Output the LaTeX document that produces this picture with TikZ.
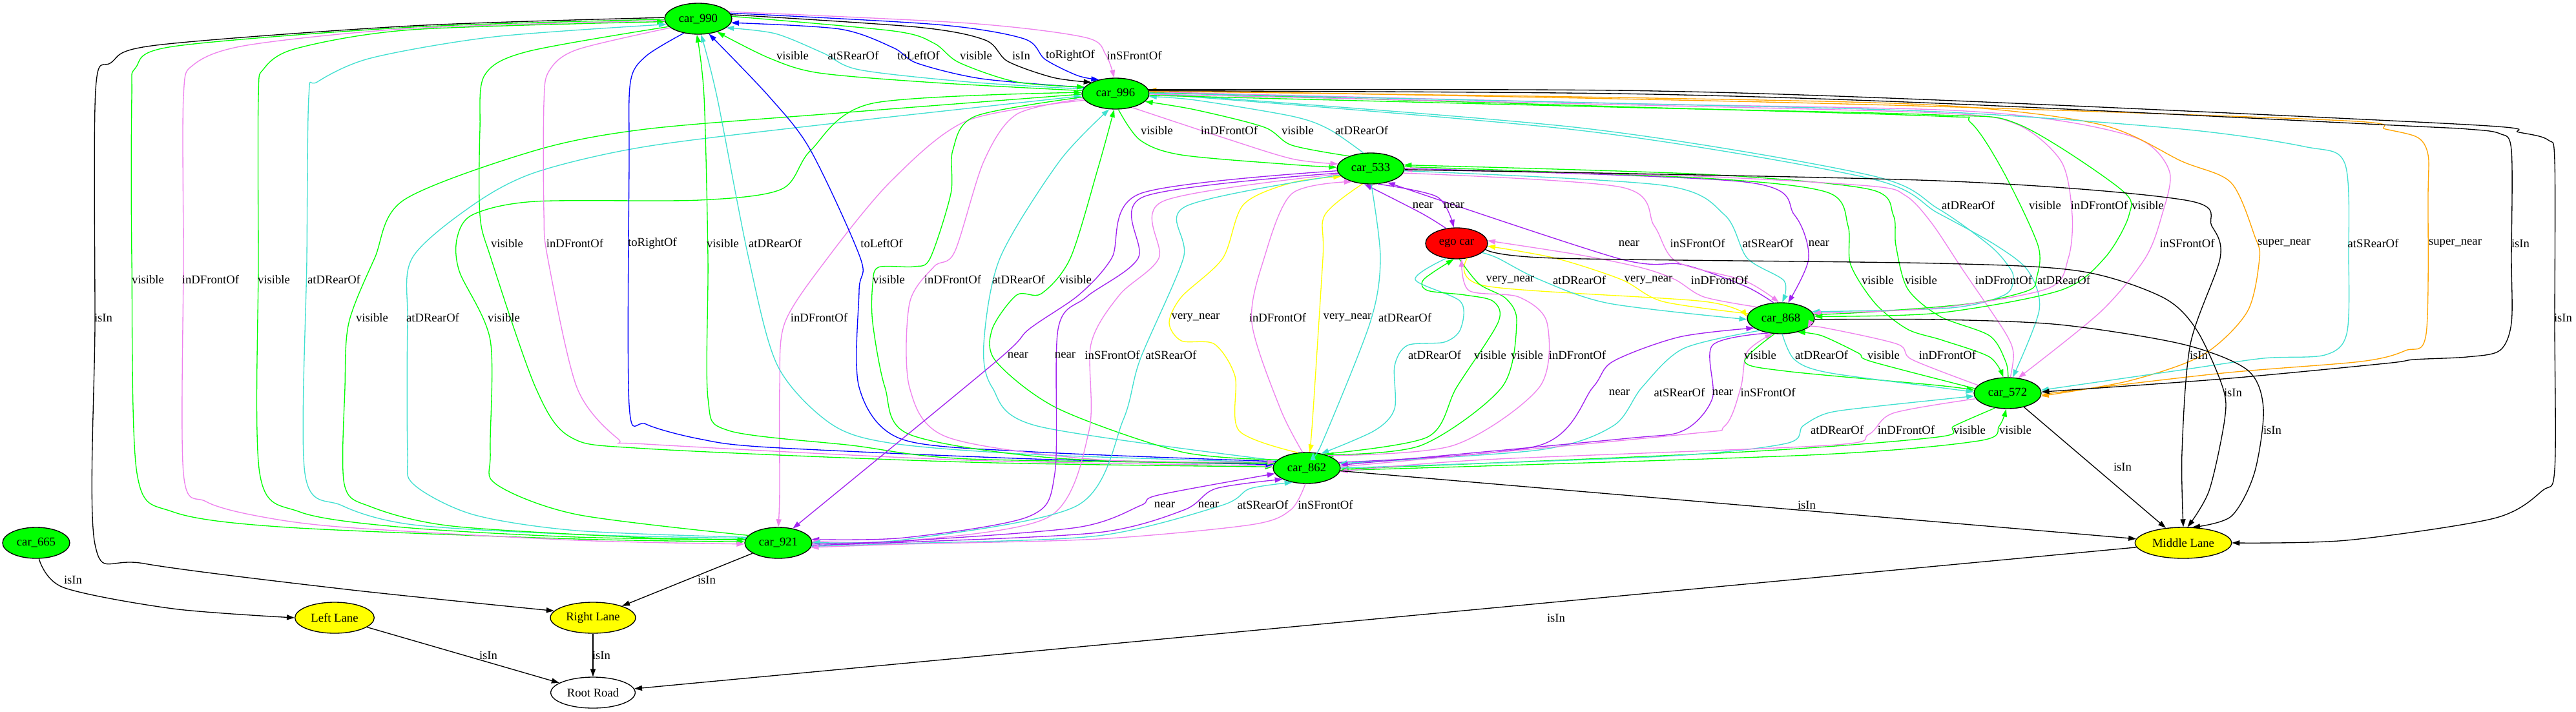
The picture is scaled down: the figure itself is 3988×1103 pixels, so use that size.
\documentclass[tikz,border=0pt]{standalone}
\usepackage{fontspec}
\setmainfont{Liberation Serif}
\usetikzlibrary{shapes.geometric,arrows.meta}
\definecolor{vgreen}{HTML}{00FF00}
\definecolor{vcyan}{HTML}{40E0D0}
\definecolor{vviolet}{HTML}{EE82EE}
\definecolor{vpurple}{HTML}{A020F0}
\definecolor{vblue}{HTML}{0000FF}
\definecolor{vorange}{HTML}{FFA500}
\definecolor{vyellow}{HTML}{FFFF00}
\definecolor{vred}{HTML}{FF0000}
\tikzset{
 car/.style={ellipse, draw=black, line width=1pt, fill=vgreen, minimum width=78pt, minimum height=36pt, inner sep=0pt, font=\fontsize{14}{16}\selectfont},
 lane/.style={car, fill=vyellow},
 lab/.style={font=\fontsize{14}{16}\selectfont, inner sep=0pt},
 e/.style={line width=1pt, -{Triangle[length=9pt,width=6pt]}},
}
\newcommand\gedge[2]{\draw[e,color=#1] plot[smooth, tension=0.5] coordinates {#2};}
\newcommand\elab[3]{\node[lab] (#1) at (#2) {#3};}
\begin{document}
\begin{tikzpicture}[x=0.75pt,y=-0.75pt]
\path[fill=white] (0,0) rectangle (3988,1103);
\useasboundingbox (0,0) rectangle (3988,1103);
% nodes
\node[car] (n990) at (1081,29) {car\_990};
\node[car] (n996) at (1727,145) {car\_996};
\node[car] (n533) at (2122,261) {car\_533};
\node[car, fill=vred, minimum width=72pt] (ego) at (2255,377) {ego car};
\node[car] (n868) at (2757,493) {car\_868};
\node[car] (n572) at (3108,609) {car\_572};
\node[car] (n862) at (2023,725) {car\_862};
\node[car] (n921) at (1205,841) {car\_921};
\node[car] (n665) at (56,841) {car\_665};
\node[lane, minimum width=92pt] (lleft) at (518,957) {Left Lane};
\node[lane, minimum width=99pt] (lright) at (918,957) {Right Lane};
\node[car, fill=white, minimum width=98pt] (root) at (918,1073) {Root Road};
\node[lane, minimum width=112pt] (lmid) at (3380,841) {Middle Lane};
% A: 990 <-> 996
\gedge{vgreen}{(n996.175) (1446,128) (1268,113) (1191,90) (n990.-35)}
\gedge{vcyan}{(n996.172) (1500,127) (1330,108) (1274,82) (1200,52) (n990.-18)}
\gedge{vblue}{(n996.169) (1520,122) (1420,98) (1383,74) (1300,45) (n990.-7)}
\gedge{vgreen}{(n990.4) (1383,48) (1446,67) (1485,97) (1574,127) (n996.168)}
\gedge{black}{(n990.7) (1420,42) (1525,62) (1560,95) (1630,120) (n996.155)}
\gedge{vblue}{(n990.10) (1450,38) (1585,60) (1618,92) (1668,117) (n996.140)}
\gedge{vviolet}{(n990.13) (1500,36) (1680,58) (1712,85) (n996.95)}
% B: left bundle
\gedge{black}{(n990.178) (638,40) (242,70) (172,97) (148,140) (147,500) (147,843) (223,873) (536,913) (lright.170)}
\gedge{vgreen}{(n990.181) (638,42) (268,72) (210,105) (204,150) (204,400) (212,733) (268,793) (446,817) (893,835) (n921.178)}
\gedge{vviolet}{(n990.183) (638,44) (383,70) (300,100) (284,150) (284,400) (284,733) (319,777) (402,800) (536,817) (893,837) (n921.182)}
\gedge{vgreen}{(n921.175) (893,832) (625,817) (464,793) (402,733) (400,400) (400,150) (408,107) (459,75) (638,46) (n990.185)}
\gedge{vcyan}{(n921.172) (893,828) (640,813) (529,783) (472,733) (475,400) (478,150) (491,127) (574,90) (765,57) (n990.190)}
\gedge{vgreen}{(n996.181) (1300,175) (1000,200) (829,233) (625,310) (580,400) (540,500) (534,600) (533,750) (574,785) (700,815) (1000,833) (n921.174)}
\gedge{vcyan}{(n921.170) (893,822) (732,797) (640,750) (631,700) (631,500) (638,400) (733,317) (829,267) (1000,227) (1300,190) (n996.184)}
\gedge{vgreen}{(n921.166) (893,797) (768,750) (759,700) (759,527) (711,420) (708,367) (733,332) (829,312) (1083,310) (1210,293) (1255,233) (1351,160) (n996.178)}
\gedge{vviolet}{(n996.192) (1497,187) (1380,280) (1281,400) (1215,500) (1207,600) (1207,760) (n921.90)}
% C: 990 <-> 862
\gedge{vgreen}{(n990.195) (816,80) (750,117) (743,200) (743,333) (760,400) (829,600) (883,677) (1000,695) (1500,716) (n862.178)}
\gedge{vviolet}{(n990.198) (893,77) (850,110) (842,160) (842,330) (848,400) (893,600) (957,680) (1000,688) (1500,713) (n862.176)}
\gedge{vblue}{(n990.225) (1000,87) (976,127) (974,250) (974,627) (1000,657) (1083,680) (1191,693) (1600,711) (n862.174)}
\gedge{vgreen}{(n862.172) (1500,711) (1319,690) (1128,667) (1096,617) (1096,400) (1090,150) (n990.-95)}
\gedge{vcyan}{(n862.170) (1600,704) (1383,687) (1287,657) (1204,567) (1159,400) (1110,150) (n990.-80)}
\gedge{vblue}{(n862.168) (1600,700) (1395,680) (1330,600) (1330,450) (1332,400) (1255,233) (1191,150) (n990.-55)}
% D: 996 <-> 862
\gedge{vgreen}{(n996.186) (1510,180) (1475,233) (1472,300) (1440,400) (1415,413) (1360,414) (1351,440) (1351,500) (1370,600) (1408,673) (1638,710) (n862.171)}
\gedge{vviolet}{(n996.189) (1574,177) (1523,250) (1478,390) (1446,413) (1408,470) (1408,600) (1466,677) (1700,712) (n862.169)}
\gedge{vcyan}{(n862.166) (1606,660) (1536,600) (1523,533) (1548,400) (1640,250) (n996.-112)}
\gedge{vgreen}{(n862.164) (1829,700) (1638,633) (1542,560) (1536,510) (1574,457) (1612,455) (1657,400) (1700,260) (n996.-95)}
% E: 996 <-> 533
\gedge{vgreen}{(n996.-80) (1765,217) (1829,240) (2000,255) (n533.178)}
\gedge{vviolet}{(n996.-40) (1893,213) (2000,246) (n533.172)}
\gedge{vgreen}{(n533.150) (2000,225) (1957,197) (1850,170) (n996.-15)}
\gedge{vcyan}{(n533.115) (2057,200) (2000,180) (1850,155) (n996.-5)}
% F: 533 <-> ego
\gedge{vpurple}{(ego.125) (2200,330) (n533.-112)}
\gedge{vpurple}{(n533.-65) (2225,305) (ego.100)}
% G: 533 <-> 868
\gedge{vpurple}{(n868.115) (2701,443) (2606,410) (2504,400) (n533.-40)}
\gedge{vviolet}{(n533.-8) (2510,290) (2561,350) (2595,405) (2701,435) (n868.97)}
\gedge{vcyan}{(n533.-4) (2574,287) (2670,333) (2705,400) (2762,435) (n868.85)}
\gedge{vpurple}{(n533.0) (2702,282) (2778,333) (2800,400) (n868.65)}
% H: 533 <-> 572
\gedge{vgreen}{(n533.3) (2638,276) (2829,298) (2861,350) (2865,410) (2903,470) (2953,510) (3007,527) (3080,553) (n572.105)}
\gedge{vgreen}{(n572.88) (3105,560) (3080,520) (3003,490) (2953,447) (2935,380) (2931,333) (2893,293) (2638,270) (n533.6)}
\gedge{vviolet}{(n572.80) (3117,547) (3103,513) (3040,420) (2990,345) (2950,303) (2893,288) (2600,272) (n533.-2)}
% I: 996 -> right group
\gedge{vcyan}{(n996.1) (2446,198) (2893,271) (3000,323) (3080,380) (3110,413) (3117,432) (3103,457) (3020,477) (n868.12)}
\gedge{vcyan}{(n996.0) (2446,202) (2893,276) (3000,330) (3090,380) (3140,420) (3157,480) (n572.72)}
\gedge{vgreen}{(n996.2) (2500,165) (3000,180) (3051,190) (3102,267) (3155,380) (3153,430) (3140,450) (3053,470) (2900,483) (n868.6)}
\gedge{vviolet}{(n996.-1) (2500,162) (3000,175) (3121,192) (3191,250) (3208,333) (3202,400) (3170,447) (3000,477) (n868.9)}
\gedge{vgreen}{(n996.-3) (2500,166) (3000,178) (3126,193) (3283,293) (3296,333) (3258,400) (3189,450) (3000,485) (n868.3)}
\gedge{vviolet}{(n996.3) (2500,160) (3000,170) (3189,187) (3315,217) (3359,267) (3347,333) (3321,400) (3252,483) (n572.55)}
\gedge{vorange}{(n996.4) (2500,151) (3000,163) (3252,193) (3378,250) (3454,283) (3491,367) (3498,400) (3479,483) (3410,550) (3296,590) (n572.-5)}
\gedge{vcyan}{(n996.1) (2500,160) (3000,173) (3378,200) (3567,227) (3630,253) (3636,400) (3633,517) (3599,550) (3504,555) (3378,573) (n572.5)}
\gedge{vorange}{(n572.-2) (3441,578) (3655,560) (3724,543) (3756,517) (3759,300) (3759,240) (3743,213) (3693,200) (3630,187) (3000,165) (2500,153) (n996.6)}
\gedge{black}{(n996.5) (2500,145) (3000,160) (3725,195) (3820,200) (3870,207) (3888,233) (3888,400) (3888,500) (3870,543) (3819,553) (3737,557) (3693,563) (3441,587) (n572.2)}
\gedge{black}{(n996.7) (2500,140) (3000,155) (3819,193) (3900,205) (3945,217) (3955,250) (3955,500) (3955,727) (3936,760) (3861,803) (3633,837) (lmid.0)}
% J: ego / 868 / Middle Lane
\gedge{vyellow}{(ego.-55) (2300,443) (2638,467) (n868.178)}
\gedge{vcyan}{(ego.-20) (2319,400) (2383,433) (2491,470) (n868.182)}
\gedge{vyellow}{(n868.172) (2574,467) (2510,433) (2408,400) (ego.-5)}
\gedge{vviolet}{(n868.155) (2638,460) (2593,433) (2542,415) (2446,395) (ego.5)}
\gedge{black}{(ego.-12) (2408,400) (3000,408) (3220,420) (3347,460) (3400,510) (3441,600) (3444,650) (3420,760) (lmid.75)}
\gedge{black}{(n533.-2) (3000,280) (3383,310) (3424,350) (3437,400) (3391,533) (3378,700) (lmid.90)}
\gedge{black}{(n868.-2) (3000,495) (3189,503) (3378,533) (3479,573) (3504,633) (3490,733) (3454,800) (lmid.60)}
\draw[e] (n572) -- (lmid);
% K: ego <-> 862
\gedge{vcyan}{(ego.-125) (2191,433) (2261,467) (2261,510) (2236,530) (2179,535) (2159,567) (2159,633) (2128,667) (n862.45)}
\gedge{vgreen}{(n862.40) (2210,677) (2255,600) (2319,500) (2312,467) (2268,457) (2210,450) (2204,433) (ego.-100)}
\gedge{vgreen}{(ego.-80) (2290,440) (2332,463) (2348,500) (2325,600) (2200,690) (n862.35)}
\gedge{vviolet}{(n862.30) (2250,690) (2383,600) (2395,500) (2351,460) (2274,450) (ego.-72)}
% L: 533 <-> 862
\gedge{vyellow}{(n862.120) (1918,667) (1912,583) (1880,533) (1829,528) (1810,500) (1829,460) (1893,400) (1925,317) (2000,283) (n533.-165)}
\gedge{vyellow}{(n533.-118) (2051,333) (2048,400) (2032,650) (n862.80)}
\gedge{vviolet}{(n862.105) (1982,633) (1938,500) (1957,400) (2000,300) (n533.-145)}
\gedge{vcyan}{(n533.-88) (2137,400) (2121,500) (2045,690) (n862.68)}
% M: 533 -> 921
\gedge{vpurple}{(n533.-176) (1765,300) (1721,400) (1670,457) (1593,510) (1542,560) (n921.45)}
\gedge{vpurple}{(n533.-172) (1770,305) (1762,400) (1682,460) (1638,510) (1633,733) (1593,800) (1400,833) (n921.6)}
\gedge{vviolet}{(n533.-170) (1800,312) (1794,400) (1733,457) (1689,533) (1686,667) (1625,800) (1400,838) (n921.3)}
\gedge{vcyan}{(n533.-168) (1835,320) (1832,400) (1765,557) (1739,650) (1668,783) (1400,836) (n921.1)}
% N: 921 <-> 862
\gedge{vpurple}{(n921.-2) (1400,838) (1668,817) (1766,783) (1793,767) (n862.-170)}
\gedge{vpurple}{(n921.-4) (1400,840) (1700,825) (1833,790) (1882,757) (n862.-155)}
\gedge{vcyan}{(n921.-6) (1400,842) (1700,830) (1891,783) (1935,757) (n862.-135)}
\gedge{vviolet}{(n862.-95) (1998,790) (1936,813) (1700,835) (1400,843) (n921.-8)}
% O: 862 <-> 868
\gedge{vpurple}{(n862.10) (2383,690) (2466,600) (2497,560) (2600,522) (n868.-160)}
\gedge{vcyan}{(n868.-150) (2606,540) (2542,600) (2497,660) (2383,697) (n862.8)}
\gedge{vpurple}{(n868.-130) (2651,535) (2651,617) (2606,667) (2510,680) (n862.5)}
\gedge{vviolet}{(n862.2) (2606,673) (2670,660) (2695,600) (2705,545) (n868.-118)}
% P: 868 <-> 572
\gedge{vgreen}{(n868.-112) (2701,560) (2765,575) (3000,597) (n572.175)}
\gedge{vcyan}{(n868.-85) (2778,557) (2829,577) (3000,600) (n572.178)}
\gedge{vgreen}{(n572.172) (2897,560) (2877,547) (2820,520) (n868.-40)}
\gedge{vviolet}{(n572.165) (2960,557) (2937,533) (2820,507) (n868.-20)}
% Q: 572 <-> 862
\gedge{vgreen}{(n572.-130) (3025,660) (3000,677) (2700,700) (n862.-2)}
\gedge{vgreen}{(n862.-4) (2800,705) (3063,683) (3095,660) (n572.-95)}
\gedge{vcyan}{(n862.0) (2574,707) (2765,687) (2791,660) (2829,640) (2900,630) (n572.-175)}
\gedge{vviolet}{(n572.-170) (2931,640) (2893,673) (2829,690) (2300,712) (n862.-6)}
% lanes and road
\draw[e] (n862) -- (lmid);
\draw[e] (lmid) -- (root);
\draw[e] (n921) -- (lright);
\gedge{black}{(n665.-80) (98,910) (268,943) (lleft.180)}
\draw[e] (lleft) -- (root);
\draw[e] (lright) -- (root);
% labels
\elab{a1}{1227,86}{visible}
\elab{a2}{1321,86}{atSRearOf}
\elab{a3}{1422,86}{toLeftOf}
\elab{a4}{1511,86}{visible}
\elab{a5}{1581,86}{isIn}
\elab{a6}{1657,86}{toRightOf}
\elab{a7}{1756,86}{inSFrontOf}
\elab{b1}{1791,202}{visible}
\elab{b2}{1903,202}{inDFrontOf}
\elab{b3}{2009,202}{visible}
\elab{b4}{2108,202}{atDRearOf}
\elab{c1}{2203,318}{near}
\elab{c2}{2251,318}{near}
\elab{c3}{3047,318}{atDRearOf}
\elab{c4}{3166,318}{visible}
\elab{c5}{3250,318}{inDFrontOf}
\elab{c6}{3325,318}{visible}
\elab{d1}{785,377}{visible}
\elab{d2}{890,377}{inDFrontOf}
\elab{d3}{1010,377}{toRightOf}
\elab{d4}{1119,377}{visible}
\elab{d5}{1200,377}{atDRearOf}
\elab{d6}{1365,377}{toLeftOf}
\elab{d7}{2522,377}{near}
\elab{d8}{2628,377}{inSFrontOf}
\elab{d9}{2737,377}{atSRearOf}
\elab{d10}{2816,377}{near}
\elab{d11}{3386,377}{inSFrontOf}
\elab{d12}{3536,377}{super\_near}
\elab{d13}{3674,377}{atSRearOf}
\elab{d14}{3801,377}{super\_near}
\elab{d15}{3902,377}{isIn}
\elab{e1}{229,433}{visible}
\elab{e2}{326,433}{inDFrontOf}
\elab{e3}{424,433}{visible}
\elab{e4}{517,433}{atDRearOf}
\elab{e5}{1376,433}{visible}
\elab{e6}{1475,433}{inDFrontOf}
\elab{e7}{1577,433}{atDRearOf}
\elab{e8}{1665,433}{visible}
\elab{e9}{2338,434}{very\_near}
\elab{e10}{2445,434}{atDRearOf}
\elab{e11}{2552,434}{very\_near}
\elab{e12}{2662,434}{inDFrontOf}
\elab{e13}{2907,434}{visible}
\elab{e14}{2974,434}{visible}
\elab{e15}{3102,434}{inDFrontOf}
\elab{e16}{3195,434}{atDRearOf}
\elab{f1}{160,492}{isIn}
\elab{f2}{576,492}{visible}
\elab{f3}{670,492}{atDRearOf}
\elab{f4}{780,492}{visible}
\elab{f5}{1268,492}{inDFrontOf}
\elab{f6}{1851,492}{very\_near}
\elab{f7}{1978,492}{inDFrontOf}
\elab{f8}{2086,492}{very\_near}
\elab{f9}{2175,492}{atDRearOf}
\elab{f10}{3968,492}{isIn}
\elab{g1}{1576,550}{near}
\elab{g2}{1649,550}{near}
\elab{g3}{1722,550}{inSFrontOf}
\elab{g4}{1813,550}{atSRearOf}
\elab{g5}{2221,550}{atDRearOf}
\elab{g6}{2307,550}{visible}
\elab{g7}{2364,550}{visible}
\elab{g8}{2442,550}{inDFrontOf}
\elab{g9}{2725,550}{visible}
\elab{g10}{2820,550}{atDRearOf}
\elab{g11}{2916,550}{visible}
\elab{g12}{3015,550}{inDFrontOf}
\elab{g13}{3404,550}{isIn}
\elab{h1}{2507,608}{near}
\elab{h2}{2600,608}{atSRearOf}
\elab{h3}{2667,608}{near}
\elab{h4}{2737,608}{inSFrontOf}
\elab{h5}{3457,608}{isIn}
\elab{i1}{2844,666}{atDRearOf}
\elab{i2}{2951,666}{inDFrontOf}
\elab{i3}{3049,666}{visible}
\elab{i4}{3120,666}{visible}
\elab{i5}{3518,666}{isIn}
\elab{j1}{3286,723}{isIn}
\elab{k1}{1803,782}{near}
\elab{k2}{1871,782}{near}
\elab{k3}{1955,782}{atSRearOf}
\elab{k4}{2052,782}{inSFrontOf}
\elab{k5}{2797,782}{isIn}
\elab{m1}{113,898}{isIn}
\elab{m2}{1094,898}{isIn}
\elab{m3}{2409,957}{isIn}
\elab{m4}{756,1015}{isIn}
\elab{m5}{931,1015}{isIn}
\end{tikzpicture}
\end{document}
